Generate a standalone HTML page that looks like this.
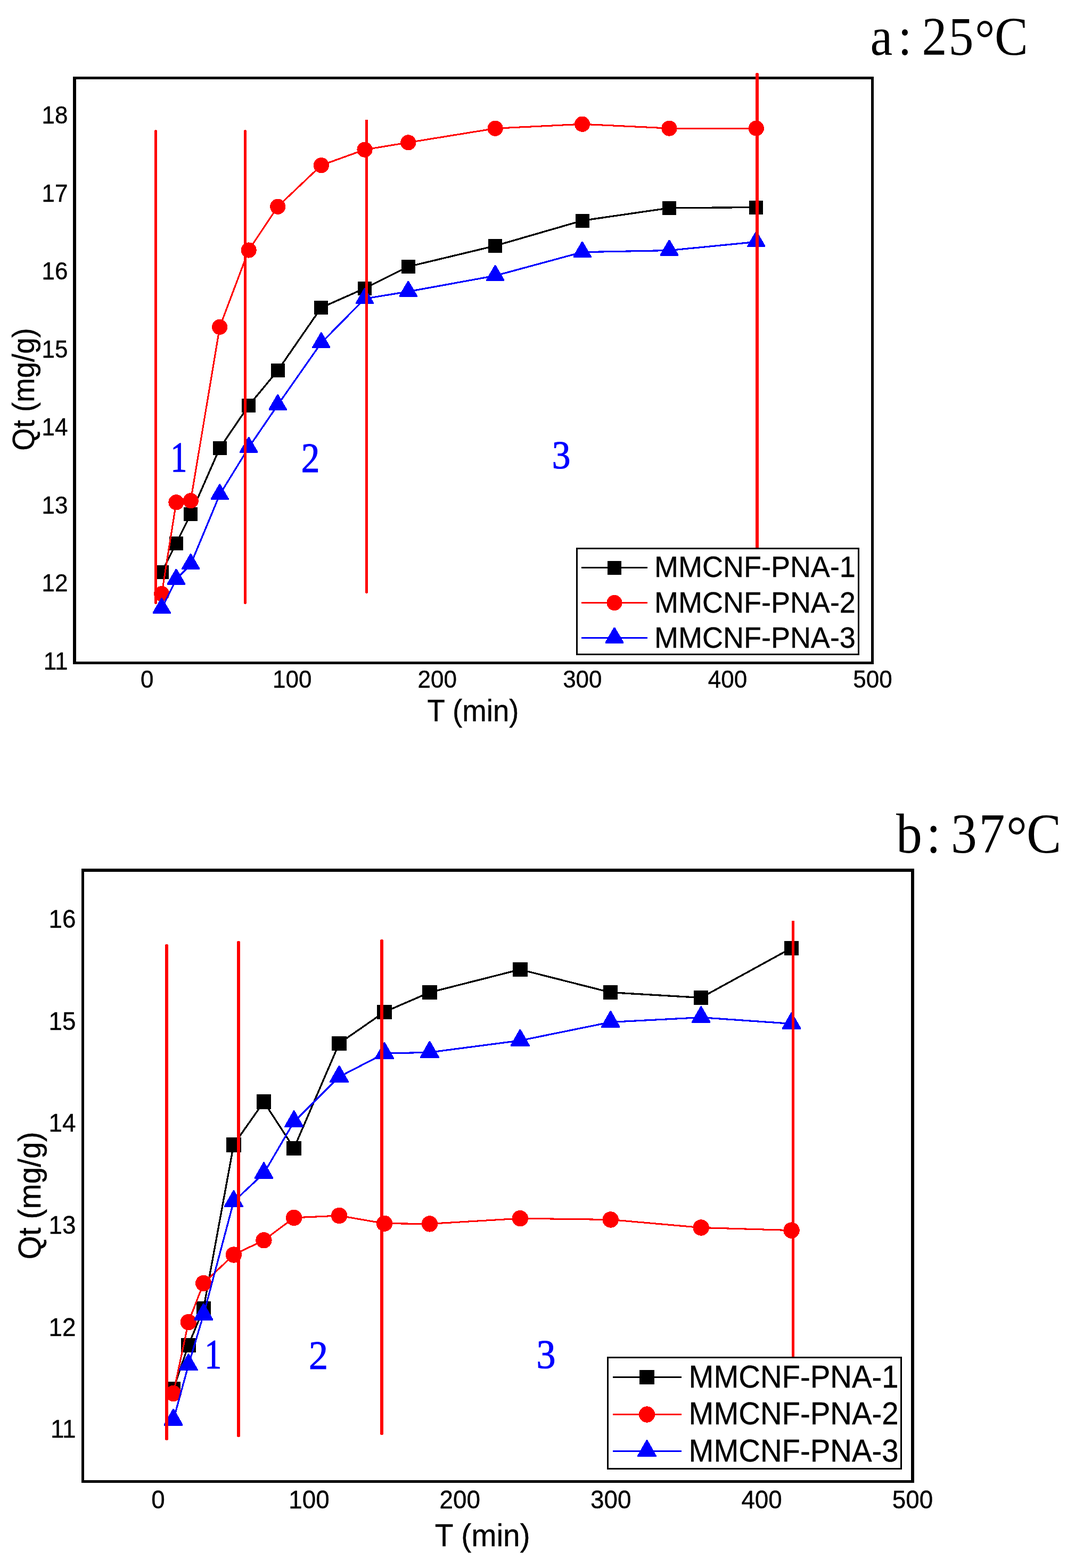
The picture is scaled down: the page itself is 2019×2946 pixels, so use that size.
<!DOCTYPE html>
<html lang="en">
<head>
<meta charset="utf-8">
<title>Adsorption kinetics of MMCNF-PNA at 25 and 37 degrees</title>
<style>
html,body{margin:0;padding:0;background:#fff;}
body{width:2019px;height:2946px;overflow:hidden;}
svg{display:block;}
</style>
</head>
<body>
<svg width="2019" height="2946" viewBox="0 0 2019 2946" shape-rendering="crispEdges" role="img" aria-label="Qt (mg/g) versus T (min) for MMCNF-PNA-1, MMCNF-PNA-2 and MMCNF-PNA-3 at 25 and 37 degrees C">
<rect x="0" y="0" width="2019" height="2946" fill="#fff"/>
<g id="chart-a">
<rect x="137" y="144" width="1504" height="5" fill="#000"/>
<rect x="137" y="1243" width="1504" height="5" fill="#000"/>
<rect x="137" y="144" width="6" height="1104" fill="#000"/>
<rect x="1636" y="144" width="5" height="1104" fill="#000"/>
<polyline points="303.74,1074.8 330.97,1020.9 358.2,965.9 412.68,842 467.14,762 521.62,696.2 603.32,578 685.02,541.8 766.73,501 930.14,461.8 1093.55,414.5 1256.96,390.8 1420.37,389.5" fill="none" stroke="#000" stroke-width="3.3" stroke-linejoin="round"/>
<rect x="290.74" y="1061.8" width="26" height="26" fill="#000"/>
<rect x="317.97" y="1007.9" width="26" height="26" fill="#000"/>
<rect x="345.2" y="952.9" width="26" height="26" fill="#000"/>
<rect x="399.68" y="829" width="26" height="26" fill="#000"/>
<rect x="454.14" y="749" width="26" height="26" fill="#000"/>
<rect x="508.62" y="683.2" width="26" height="26" fill="#000"/>
<rect x="590.32" y="565" width="26" height="26" fill="#000"/>
<rect x="672.02" y="528.8" width="26" height="26" fill="#000"/>
<rect x="753.73" y="488" width="26" height="26" fill="#000"/>
<rect x="917.14" y="448.8" width="26" height="26" fill="#000"/>
<rect x="1080.55" y="401.5" width="26" height="26" fill="#000"/>
<rect x="1243.96" y="377.8" width="26" height="26" fill="#000"/>
<rect x="1407.37" y="376.5" width="26" height="26" fill="#000"/>
<polyline points="303.74,1115.7 330.97,943.8 358.2,940.7 412.68,614.4 467.14,470 521.62,388.2 603.32,310.6 685.02,281.1 766.73,267.8 930.14,241.3 1093.55,233.2 1256.96,241.1 1420.37,241.1" fill="none" stroke="#ff0000" stroke-width="3.1" stroke-linejoin="round"/>
<circle cx="303.74" cy="1115.7" r="14.6" fill="#ff0000"/>
<circle cx="330.97" cy="943.8" r="14.6" fill="#ff0000"/>
<circle cx="358.2" cy="940.7" r="14.6" fill="#ff0000"/>
<circle cx="412.68" cy="614.4" r="14.6" fill="#ff0000"/>
<circle cx="467.14" cy="470" r="14.6" fill="#ff0000"/>
<circle cx="521.62" cy="388.2" r="14.6" fill="#ff0000"/>
<circle cx="603.32" cy="310.6" r="14.6" fill="#ff0000"/>
<circle cx="685.02" cy="281.1" r="14.6" fill="#ff0000"/>
<circle cx="766.73" cy="267.8" r="14.6" fill="#ff0000"/>
<circle cx="930.14" cy="241.3" r="14.6" fill="#ff0000"/>
<circle cx="1093.55" cy="233.2" r="14.6" fill="#ff0000"/>
<circle cx="1256.96" cy="241.1" r="14.6" fill="#ff0000"/>
<circle cx="1420.37" cy="241.1" r="14.6" fill="#ff0000"/>
<polyline points="303.74,1143.2 330.97,1088.7 358.2,1060.2 412.68,929.3 467.14,840.8 521.62,760.9 603.32,644.3 685.02,561.2 766.73,547.8 930.14,518 1093.55,473.7 1256.96,470.5 1420.37,454.4" fill="none" stroke="#0000ff" stroke-width="3.2" stroke-linejoin="round"/>
<polygon points="286.74,1153.2 286.74,1150.6 302.74,1123.2 304.74,1123.2 320.74,1150.6 320.74,1153.2" fill="#0000ff"/>
<polygon points="313.97,1098.7 313.97,1096.1 329.97,1068.7 331.97,1068.7 347.97,1096.1 347.97,1098.7" fill="#0000ff"/>
<polygon points="341.2,1070.2 341.2,1067.6 357.2,1040.2 359.2,1040.2 375.2,1067.6 375.2,1070.2" fill="#0000ff"/>
<polygon points="395.68,939.3 395.68,936.7 411.68,909.3 413.68,909.3 429.68,936.7 429.68,939.3" fill="#0000ff"/>
<polygon points="450.14,850.8 450.14,848.2 466.14,820.8 468.14,820.8 484.14,848.2 484.14,850.8" fill="#0000ff"/>
<polygon points="504.62,770.9 504.62,768.3 520.62,740.9 522.62,740.9 538.62,768.3 538.62,770.9" fill="#0000ff"/>
<polygon points="586.32,654.3 586.32,651.7 602.32,624.3 604.32,624.3 620.32,651.7 620.32,654.3" fill="#0000ff"/>
<polygon points="668.02,571.2 668.02,568.6 684.02,541.2 686.02,541.2 702.02,568.6 702.02,571.2" fill="#0000ff"/>
<polygon points="749.73,557.8 749.73,555.2 765.73,527.8 767.73,527.8 783.73,555.2 783.73,557.8" fill="#0000ff"/>
<polygon points="913.14,528 913.14,525.4 929.14,498 931.14,498 947.14,525.4 947.14,528" fill="#0000ff"/>
<polygon points="1076.55,483.7 1076.55,481.1 1092.55,453.7 1094.55,453.7 1110.55,481.1 1110.55,483.7" fill="#0000ff"/>
<polygon points="1239.96,480.5 1239.96,477.9 1255.96,450.5 1257.96,450.5 1273.96,477.9 1273.96,480.5" fill="#0000ff"/>
<polygon points="1403.37,464.4 1403.37,461.8 1419.37,434.4 1421.37,434.4 1437.37,461.8 1437.37,464.4" fill="#0000ff"/>
<line x1="292.5" y1="246.5" x2="292.5" y2="1132.3" stroke="#ff0000" stroke-width="5" stroke-linecap="round"/>
<line x1="460.5" y1="246.5" x2="460.5" y2="1132.3" stroke="#ff0000" stroke-width="5" stroke-linecap="round"/>
<line x1="688.5" y1="227" x2="688.5" y2="1112.5" stroke="#ff0000" stroke-width="5" stroke-linecap="round"/>
<line x1="1422" y1="140" x2="1422" y2="1028" stroke="#ff0000" stroke-width="6" stroke-linecap="round"/>
<text transform="translate(336 886.2) scale(0.8 1.055)" font-family='"Liberation Serif", serif' font-size="77" fill="#0000ff" stroke="#0000ff" stroke-width="1.2" text-anchor="middle">1</text>
<text transform="translate(583 886.2) scale(0.9 1.02)" font-family='"Liberation Serif", serif' font-size="77" fill="#0000ff" stroke="#0000ff" stroke-width="1.2" text-anchor="middle">2</text>
<text transform="translate(1054 879.5) scale(0.9 0.97)" font-family='"Liberation Serif", serif' font-size="77" fill="#0000ff" stroke="#0000ff" stroke-width="1.2" text-anchor="middle">3</text>
<text transform="translate(127.5 1257.5) scale(1.0 1.04)" font-family='"Liberation Sans", sans-serif' font-size="44" text-anchor="end" fill="#000" stroke="#000" stroke-width="0.4">11</text>
<text transform="translate(127.5 1111) scale(1.0 1.04)" font-family='"Liberation Sans", sans-serif' font-size="44" text-anchor="end" fill="#000" stroke="#000" stroke-width="0.4">12</text>
<text transform="translate(127.5 964.5) scale(1.0 1.04)" font-family='"Liberation Sans", sans-serif' font-size="44" text-anchor="end" fill="#000" stroke="#000" stroke-width="0.4">13</text>
<text transform="translate(127.5 818) scale(1.0 1.04)" font-family='"Liberation Sans", sans-serif' font-size="44" text-anchor="end" fill="#000" stroke="#000" stroke-width="0.4">14</text>
<text transform="translate(127.5 671.5) scale(1.0 1.04)" font-family='"Liberation Sans", sans-serif' font-size="44" text-anchor="end" fill="#000" stroke="#000" stroke-width="0.4">15</text>
<text transform="translate(127.5 525) scale(1.0 1.04)" font-family='"Liberation Sans", sans-serif' font-size="44" text-anchor="end" fill="#000" stroke="#000" stroke-width="0.4">16</text>
<text transform="translate(127.5 378.5) scale(1.0 1.04)" font-family='"Liberation Sans", sans-serif' font-size="44" text-anchor="end" fill="#000" stroke="#000" stroke-width="0.4">17</text>
<text transform="translate(127.5 232) scale(1.0 1.04)" font-family='"Liberation Sans", sans-serif' font-size="44" text-anchor="end" fill="#000" stroke="#000" stroke-width="0.4">18</text>
<text transform="translate(276.2 1292) scale(1.0 1.04)" font-family='"Liberation Sans", sans-serif' font-size="44" text-anchor="middle" fill="#000" stroke="#000" stroke-width="0.4">0</text>
<text transform="translate(548.75 1292) scale(1.0 1.04)" font-family='"Liberation Sans", sans-serif' font-size="44" text-anchor="middle" fill="#000" stroke="#000" stroke-width="0.4">100</text>
<text transform="translate(821.3 1292) scale(1.0 1.04)" font-family='"Liberation Sans", sans-serif' font-size="44" text-anchor="middle" fill="#000" stroke="#000" stroke-width="0.4">200</text>
<text transform="translate(1093.85 1292) scale(1.0 1.04)" font-family='"Liberation Sans", sans-serif' font-size="44" text-anchor="middle" fill="#000" stroke="#000" stroke-width="0.4">300</text>
<text transform="translate(1366.4 1292) scale(1.0 1.04)" font-family='"Liberation Sans", sans-serif' font-size="44" text-anchor="middle" fill="#000" stroke="#000" stroke-width="0.4">400</text>
<text transform="translate(1638.95 1292) scale(1.0 1.04)" font-family='"Liberation Sans", sans-serif' font-size="44" text-anchor="middle" fill="#000" stroke="#000" stroke-width="0.4">500</text>
<text transform="translate(888.5 1355) scale(1.0 1.04)" font-family='"Liberation Sans", sans-serif' font-size="54.6" text-anchor="middle" fill="#000" stroke="#000" stroke-width="0.4">T (min)</text>
<text transform="translate(64 731.5) rotate(-90) scale(1.0 1.04)" font-family='"Liberation Sans", sans-serif' font-size="54.6" text-anchor="middle" fill="#000" stroke="#000" stroke-width="0.4">Qt (mg/g)</text>
<rect x="1083.5" y="1030.5" width="529" height="199" fill="#fff" stroke="#000" stroke-width="3"/>
<line x1="1092" y1="1066.5" x2="1216" y2="1066.5" stroke="#000" stroke-width="3"/>
<rect x="1141" y="1053.5" width="26" height="26" fill="#000"/>
<text transform="translate(1229 1084) scale(1.0 1.04)" font-family='"Liberation Sans", sans-serif' font-size="54" text-anchor="start" fill="#000" stroke="#000" stroke-width="0.4">MMCNF-PNA-1</text>
<line x1="1092" y1="1132.5" x2="1216" y2="1132.5" stroke="#ff0000" stroke-width="3"/>
<circle cx="1154" cy="1132.5" r="14.6" fill="#ff0000"/>
<text transform="translate(1229 1151) scale(1.0 1.04)" font-family='"Liberation Sans", sans-serif' font-size="54" text-anchor="start" fill="#000" stroke="#000" stroke-width="0.4">MMCNF-PNA-2</text>
<line x1="1092" y1="1198.5" x2="1216" y2="1198.5" stroke="#0000ff" stroke-width="3"/>
<polygon points="1137,1208.5 1137,1205.9 1153,1178.5 1155,1178.5 1171,1205.9 1171,1208.5" fill="#0000ff"/>
<text transform="translate(1229 1217.1) scale(1.0 1.04)" font-family='"Liberation Sans", sans-serif' font-size="54" text-anchor="start" fill="#000" stroke="#000" stroke-width="0.4">MMCNF-PNA-3</text>
<text transform="translate(0 103.1) scale(0.94 1.02)" x="1738.83 1794.15 1842.02 1895.21 1947.87 1987.23" y="0 0 0 0 3.33 0" font-family='"Liberation Serif", serif' font-size="100">a:25°C</text>
</g>
<g id="chart-b">
<rect x="153" y="1632" width="1564" height="6" fill="#000"/>
<rect x="153" y="2781" width="1564" height="5" fill="#000"/>
<rect x="153" y="1632" width="5" height="1154" fill="#000"/>
<rect x="1711" y="1632" width="6" height="1154" fill="#000"/>
<polyline points="325.62,2610 353.93,2527.3 382.25,2458.8 438.88,2150.8 495.5,2070.1 552.13,2157.3 637.08,1960.3 722.03,1901.3 806.97,1864.6 976.86,1821.5 1146.75,1864.6 1316.64,1874.5 1486.53,1781.3" fill="none" stroke="#000" stroke-width="3.3" stroke-linejoin="round"/>
<rect x="311.92" y="2596.3" width="27.4" height="27.4" fill="#000"/>
<rect x="340.23" y="2513.6" width="27.4" height="27.4" fill="#000"/>
<rect x="368.55" y="2445.1" width="27.4" height="27.4" fill="#000"/>
<rect x="425.18" y="2137.1" width="27.4" height="27.4" fill="#000"/>
<rect x="481.81" y="2056.4" width="27.4" height="27.4" fill="#000"/>
<rect x="538.43" y="2143.6" width="27.4" height="27.4" fill="#000"/>
<rect x="623.38" y="1946.6" width="27.4" height="27.4" fill="#000"/>
<rect x="708.33" y="1887.6" width="27.4" height="27.4" fill="#000"/>
<rect x="793.27" y="1850.9" width="27.4" height="27.4" fill="#000"/>
<rect x="963.16" y="1807.8" width="27.4" height="27.4" fill="#000"/>
<rect x="1133.05" y="1850.9" width="27.4" height="27.4" fill="#000"/>
<rect x="1302.94" y="1860.8" width="27.4" height="27.4" fill="#000"/>
<rect x="1472.83" y="1767.6" width="27.4" height="27.4" fill="#000"/>
<polyline points="325.62,2618 353.93,2484.2 382.25,2411 438.88,2357.5 495.5,2330.2 552.13,2287.9 637.08,2284 722.03,2298.7 806.97,2299.4 976.86,2289.2 1146.75,2291.5 1316.64,2306.5 1486.53,2311.6" fill="none" stroke="#ff0000" stroke-width="3.1" stroke-linejoin="round"/>
<circle cx="325.62" cy="2618" r="15.2" fill="#ff0000"/>
<circle cx="353.93" cy="2484.2" r="15.2" fill="#ff0000"/>
<circle cx="382.25" cy="2411" r="15.2" fill="#ff0000"/>
<circle cx="438.88" cy="2357.5" r="15.2" fill="#ff0000"/>
<circle cx="495.5" cy="2330.2" r="15.2" fill="#ff0000"/>
<circle cx="552.13" cy="2287.9" r="15.2" fill="#ff0000"/>
<circle cx="637.08" cy="2284" r="15.2" fill="#ff0000"/>
<circle cx="722.03" cy="2298.7" r="15.2" fill="#ff0000"/>
<circle cx="806.97" cy="2299.4" r="15.2" fill="#ff0000"/>
<circle cx="976.86" cy="2289.2" r="15.2" fill="#ff0000"/>
<circle cx="1146.75" cy="2291.5" r="15.2" fill="#ff0000"/>
<circle cx="1316.64" cy="2306.5" r="15.2" fill="#ff0000"/>
<circle cx="1486.53" cy="2311.6" r="15.2" fill="#ff0000"/>
<polyline points="325.62,2668 353.93,2564.7 382.25,2470 438.88,2257.5 495.5,2204.6 552.13,2107.6 637.08,2023.2 722.03,1979.2 806.97,1977.2 976.86,1955 1146.75,1920.4 1316.64,1911.6 1486.53,1923.4" fill="none" stroke="#0000ff" stroke-width="3.2" stroke-linejoin="round"/>
<polygon points="307.92,2678.7 307.92,2676.1 324.62,2646.7 326.62,2646.7 343.31,2676.1 343.31,2678.7" fill="#0000ff"/>
<polygon points="336.23,2575.4 336.23,2572.8 352.93,2543.4 354.93,2543.4 371.63,2572.8 371.63,2575.4" fill="#0000ff"/>
<polygon points="364.55,2480.7 364.55,2478.1 381.25,2448.7 383.25,2448.7 399.94,2478.1 399.94,2480.7" fill="#0000ff"/>
<polygon points="421.18,2268.2 421.18,2265.6 437.88,2236.2 439.88,2236.2 456.57,2265.6 456.57,2268.2" fill="#0000ff"/>
<polygon points="477.81,2215.3 477.81,2212.7 494.5,2183.3 496.5,2183.3 513.21,2212.7 513.21,2215.3" fill="#0000ff"/>
<polygon points="534.43,2118.3 534.43,2115.7 551.13,2086.3 553.13,2086.3 569.84,2115.7 569.84,2118.3" fill="#0000ff"/>
<polygon points="619.38,2033.9 619.38,2031.3 636.08,2001.9 638.08,2001.9 654.78,2031.3 654.78,2033.9" fill="#0000ff"/>
<polygon points="704.33,1989.9 704.33,1987.3 721.03,1957.9 723.03,1957.9 739.73,1987.3 739.73,1989.9" fill="#0000ff"/>
<polygon points="789.27,1987.9 789.27,1985.3 805.97,1955.9 807.97,1955.9 824.67,1985.3 824.67,1987.9" fill="#0000ff"/>
<polygon points="959.16,1965.7 959.16,1963.1 975.86,1933.7 977.86,1933.7 994.56,1963.1 994.56,1965.7" fill="#0000ff"/>
<polygon points="1129.05,1931.1 1129.05,1928.5 1145.75,1899.1 1147.75,1899.1 1164.45,1928.5 1164.45,1931.1" fill="#0000ff"/>
<polygon points="1298.94,1922.3 1298.94,1919.7 1315.64,1890.3 1317.64,1890.3 1334.34,1919.7 1334.34,1922.3" fill="#0000ff"/>
<polygon points="1468.83,1934.1 1468.83,1931.5 1485.53,1902.1 1487.53,1902.1 1504.23,1931.5 1504.23,1934.1" fill="#0000ff"/>
<line x1="313" y1="1777" x2="313" y2="2703" stroke="#ff0000" stroke-width="6" stroke-linecap="round"/>
<line x1="448" y1="1771" x2="448" y2="2697" stroke="#ff0000" stroke-width="6" stroke-linecap="round"/>
<line x1="717" y1="1768" x2="717" y2="2693.5" stroke="#ff0000" stroke-width="6" stroke-linecap="round"/>
<line x1="1489.5" y1="1732" x2="1489.5" y2="2549" stroke="#ff0000" stroke-width="5" stroke-linecap="round"/>
<text transform="translate(400.3 2570.1) scale(0.8 0.985)" font-family='"Liberation Serif", serif' font-size="80" fill="#0000ff" stroke="#0000ff" stroke-width="1.2" text-anchor="middle">1</text>
<text transform="translate(598 2571.7) scale(0.9 0.956)" font-family='"Liberation Serif", serif' font-size="80" fill="#0000ff" stroke="#0000ff" stroke-width="1.2" text-anchor="middle">2</text>
<text transform="translate(1025.5 2570) scale(0.9 0.963)" font-family='"Liberation Serif", serif' font-size="80" fill="#0000ff" stroke="#0000ff" stroke-width="1.2" text-anchor="middle">3</text>
<text transform="translate(142.5 2701.2) scale(1.0 1.04)" font-family='"Liberation Sans", sans-serif' font-size="45.8" text-anchor="end" fill="#000" stroke="#000" stroke-width="0.4">11</text>
<text transform="translate(142.5 2509.6) scale(1.0 1.04)" font-family='"Liberation Sans", sans-serif' font-size="45.8" text-anchor="end" fill="#000" stroke="#000" stroke-width="0.4">12</text>
<text transform="translate(142.5 2318) scale(1.0 1.04)" font-family='"Liberation Sans", sans-serif' font-size="45.8" text-anchor="end" fill="#000" stroke="#000" stroke-width="0.4">13</text>
<text transform="translate(142.5 2126.4) scale(1.0 1.04)" font-family='"Liberation Sans", sans-serif' font-size="45.8" text-anchor="end" fill="#000" stroke="#000" stroke-width="0.4">14</text>
<text transform="translate(142.5 1934.8) scale(1.0 1.04)" font-family='"Liberation Sans", sans-serif' font-size="45.8" text-anchor="end" fill="#000" stroke="#000" stroke-width="0.4">15</text>
<text transform="translate(142.5 1743.2) scale(1.0 1.04)" font-family='"Liberation Sans", sans-serif' font-size="45.8" text-anchor="end" fill="#000" stroke="#000" stroke-width="0.4">16</text>
<text transform="translate(297 2834) scale(1.0 1.04)" font-family='"Liberation Sans", sans-serif' font-size="45.8" text-anchor="middle" fill="#000" stroke="#000" stroke-width="0.4">0</text>
<text transform="translate(580.4 2834) scale(1.0 1.04)" font-family='"Liberation Sans", sans-serif' font-size="45.8" text-anchor="middle" fill="#000" stroke="#000" stroke-width="0.4">100</text>
<text transform="translate(863.8 2834) scale(1.0 1.04)" font-family='"Liberation Sans", sans-serif' font-size="45.8" text-anchor="middle" fill="#000" stroke="#000" stroke-width="0.4">200</text>
<text transform="translate(1147.2 2834) scale(1.0 1.04)" font-family='"Liberation Sans", sans-serif' font-size="45.8" text-anchor="middle" fill="#000" stroke="#000" stroke-width="0.4">300</text>
<text transform="translate(1430.6 2834) scale(1.0 1.04)" font-family='"Liberation Sans", sans-serif' font-size="45.8" text-anchor="middle" fill="#000" stroke="#000" stroke-width="0.4">400</text>
<text transform="translate(1714 2834) scale(1.0 1.04)" font-family='"Liberation Sans", sans-serif' font-size="45.8" text-anchor="middle" fill="#000" stroke="#000" stroke-width="0.4">500</text>
<text transform="translate(906.2 2904.7) scale(1.0 1.04)" font-family='"Liberation Sans", sans-serif' font-size="56.8" text-anchor="middle" fill="#000" stroke="#000" stroke-width="0.4">T (min)</text>
<text transform="translate(76 2246.3) rotate(-90) scale(1.0 1.04)" font-family='"Liberation Sans", sans-serif' font-size="56.8" text-anchor="middle" fill="#000" stroke="#000" stroke-width="0.4">Qt (mg/g)</text>
<rect x="1141.5" y="2550.5" width="551" height="209" fill="#fff" stroke="#000" stroke-width="3"/>
<line x1="1151" y1="2587.5" x2="1280" y2="2587.5" stroke="#000" stroke-width="3"/>
<rect x="1201.3" y="2573.8" width="27.4" height="27.4" fill="#000"/>
<text transform="translate(1293.5 2606.8) scale(1.0 1.04)" font-family='"Liberation Sans", sans-serif' font-size="56.3" text-anchor="start" fill="#000" stroke="#000" stroke-width="0.4">MMCNF-PNA-1</text>
<line x1="1151" y1="2657.5" x2="1280" y2="2657.5" stroke="#ff0000" stroke-width="3"/>
<circle cx="1215" cy="2657.5" r="15.2" fill="#ff0000"/>
<text transform="translate(1293.5 2675.8) scale(1.0 1.04)" font-family='"Liberation Sans", sans-serif' font-size="56.3" text-anchor="start" fill="#000" stroke="#000" stroke-width="0.4">MMCNF-PNA-2</text>
<line x1="1151" y1="2726.5" x2="1280" y2="2726.5" stroke="#0000ff" stroke-width="3"/>
<polygon points="1197.3,2737.2 1197.3,2734.6 1214,2705.2 1216,2705.2 1232.7,2734.6 1232.7,2737.2" fill="#0000ff"/>
<text transform="translate(1293.5 2745.6) scale(1.0 1.04)" font-family='"Liberation Sans", sans-serif' font-size="56.3" text-anchor="start" fill="#000" stroke="#000" stroke-width="0.4">MMCNF-PNA-3</text>
<text transform="translate(0 1602.3) scale(0.94 1.02)" x="1790.43 1850.74 1900 1955.85 2010.64 2051.06" y="0 0 0 0 3.33 0" font-family='"Liberation Serif", serif' font-size="104">b:37°C</text>
</g>
</svg>
</body>
</html>
